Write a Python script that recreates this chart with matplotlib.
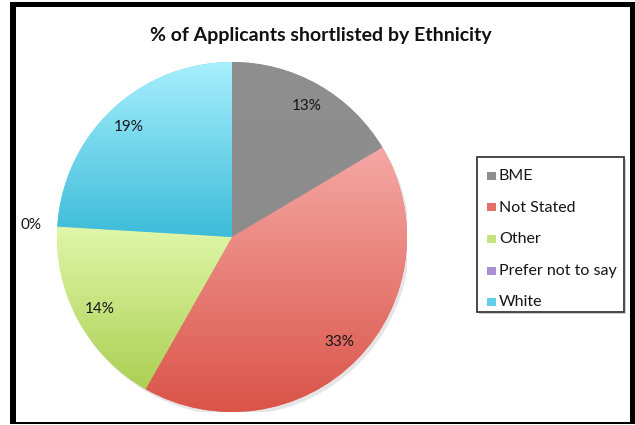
import numpy as np
import matplotlib
matplotlib.use("Agg")
import matplotlib.pyplot as plt
from matplotlib.patches import Rectangle, Circle
from matplotlib.colors import to_rgb

# Share of applicants shortlisted, by ethnicity (%)
categories = ["BME", "Not Stated", "Other", "Prefer not to say", "White"]
shortlisted_pct = [13, 33, 14, 0, 19]
chart_title = "% of Applicants shortlisted by Ethnicity"

# vertical gradient colours per slice (top -> bottom) and flat legend swatches
top_colors = ["#8f8f8f", "#f5a8a5", "#e0f7a9", "#bba5e0", "#a7effd"]
bottom_colors = ["#8c8c8c", "#da5448", "#abcf53", "#9a7ec8", "#3dbcd9"]
legend_colors = ["#8e8e8e", "#e3706a", "#c6e27f", "#a88fd5", "#62cfe8"]

plt.rcParams["font.family"] = ["Lato", "DejaVu Sans"]

W, H = 635, 425
fig = plt.figure(figsize=(W / 100, H / 100), dpi=100)
fig.patch.set_facecolor("white")


def fx(px):
    return px / W


def fy(py):
    return 1 - py / H


cx, cy, R = 232, 237, 175
ax = fig.add_axes([(cx - R) / W, (H - cy - R) / H, 2 * R / W, 2 * R / H])

# soft drop shadow under the pie
ax.add_patch(Circle((0.015, -0.02), 1.0, facecolor="black", alpha=0.10,
                    linewidth=0, zorder=0))

wedges, _ = ax.pie(shortlisted_pct, startangle=90, counterclock=False,
                   radius=1, colors=legend_colors,
                   wedgeprops=dict(linewidth=0))

# fill every wedge with a top-to-bottom gradient over its own height
for w, ctop, cbot in zip(wedges, top_colors, bottom_colors):
    if w.theta2 - w.theta1 < 1e-6:
        continue
    t = np.radians(np.linspace(w.theta1, w.theta2, 200))
    ys = np.concatenate([[0.0], np.sin(t)])
    y0, y1 = ys.min(), ys.max()
    f = np.linspace(0, 1, 256)[:, None]
    c0, c1 = np.array(to_rgb(ctop)), np.array(to_rgb(cbot))
    img = (c0 * (1 - f) + c1 * f)[:, None, :]
    im = ax.imshow(img, extent=[-1, 1, y0, y1], origin="upper",
                   aspect="auto", interpolation="bilinear",
                   zorder=w.get_zorder() + 0.1)
    im.set_clip_path(w)

# value labels
for w, v in zip(wedges, shortlisted_pct):
    mid = np.radians((w.theta1 + w.theta2) / 2)
    d = 0.86 if v > 0 else 1.15
    ax.text(d * np.cos(mid), d * np.sin(mid), f"{v}%", ha="center",
            va="center", fontsize=11, color="#151515", zorder=5)

ax.set_xlim(-1, 1)
ax.set_ylim(-1, 1)
ax.set_aspect("equal")
ax.set_axis_off()

fig.text(fx(321), fy(36), chart_title, ha="center", va="center",
         fontsize=14, fontweight="bold", color="#111111")

# legend box with swatches
lx0, ly0, lx1, ly1 = 477, 157, 624, 312
fig.add_artist(Rectangle((fx(lx0 + 2), fy(ly1 + 2)), (lx1 - lx0) / W,
                         (ly1 - ly0) / H, transform=fig.transFigure,
                         facecolor="#b0b0b0", edgecolor="none", alpha=0.6))
fig.add_artist(Rectangle((fx(lx0), fy(ly1)), (lx1 - lx0) / W,
                         (ly1 - ly0) / H, transform=fig.transFigure,
                         facecolor="white", edgecolor="#3c3c3c",
                         linewidth=1.3))
row0, row_step = 176, 31.5
for i, (name, col) in enumerate(zip(categories, legend_colors)):
    yc = row0 + i * row_step
    fig.add_artist(Rectangle((fx(487), fy(yc + 4)), 9 / W, 8 / H,
                             transform=fig.transFigure, facecolor=col,
                             edgecolor="none"))
    fig.text(fx(499), fy(yc), name, ha="left", va="center",
             fontsize=11.5, color="#151515")


def band(x0, y0, x1, y1):
    fig.add_artist(Rectangle((x0 / W, 1 - y1 / H), (x1 - x0) / W,
                             (y1 - y0) / H, transform=fig.transFigure,
                             facecolor="black", edgecolor="none"))


# black picture frame
band(10, 2, 16, 424)
band(10, 2, 635, 7)
band(630, 2, 635, 424)
band(10, 422, 635, 424)

fig.savefig("out.png", dpi=100)
